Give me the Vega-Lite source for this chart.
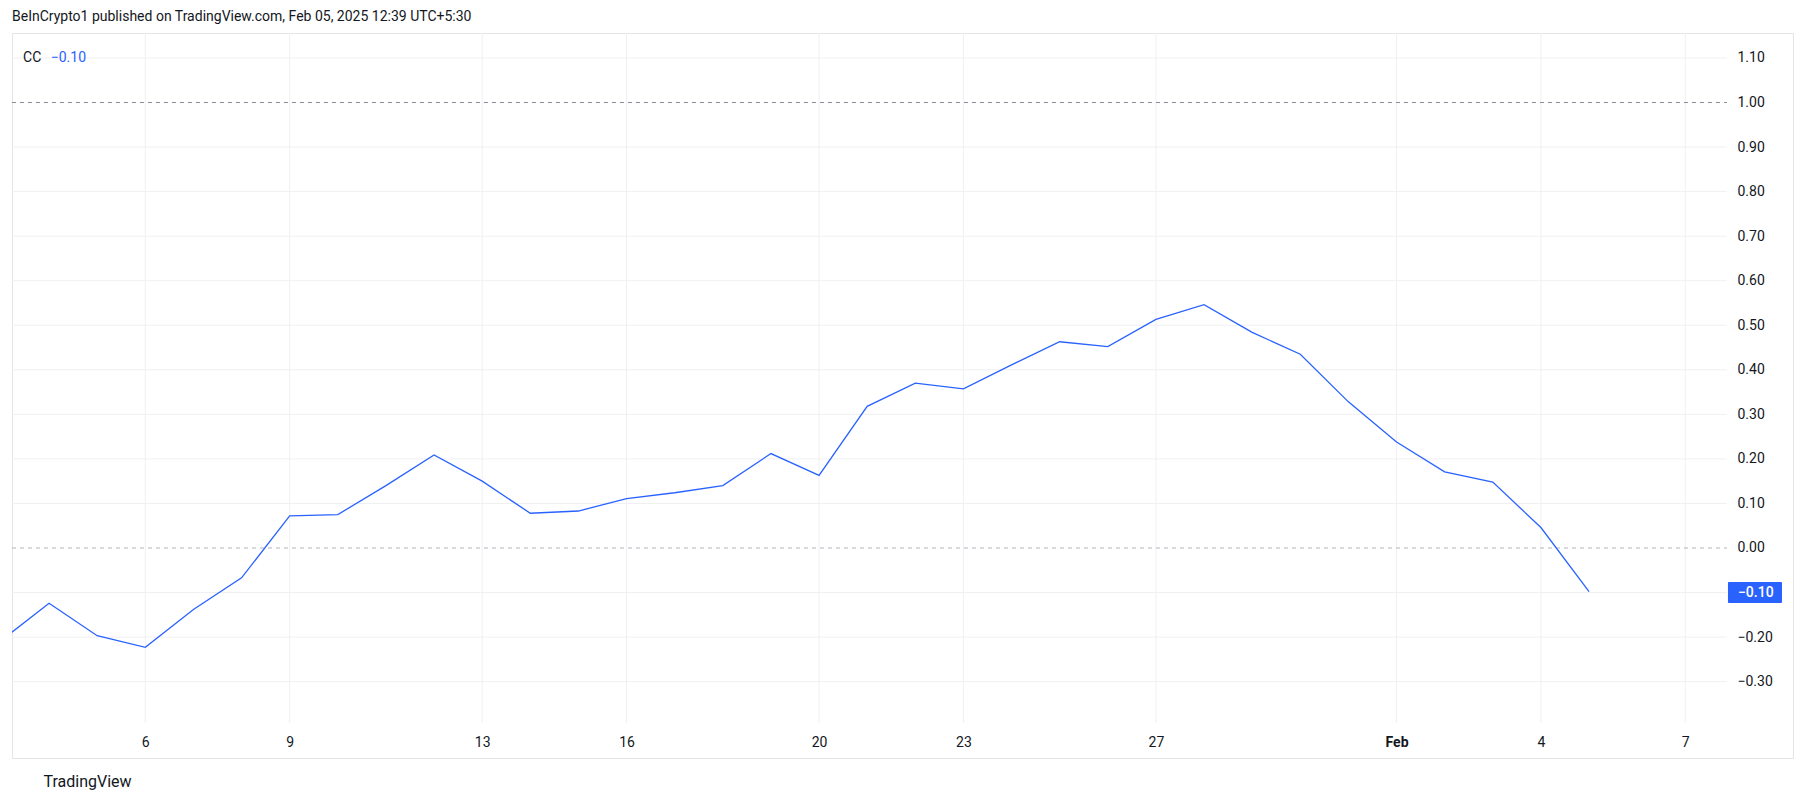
{
  "$schema": "https://vega.github.io/schema/vega-lite/v6.json",
  "width": 1781,
  "height": 725,
  "autosize": {"type": "none"},
  "padding": {"left": 12, "top": 33, "right": 12, "bottom": 45},
  "background": "#ffffff",
  "config": {
    "view": {"stroke": "#e4e4e7", "strokeWidth": 1},
    "font": "Roboto"
  },
  "title": {
    "text": "BeInCrypto1 published on TradingView.com, Feb 05, 2025 12:39 UTC+5:30",
    "anchor": "start",
    "frame": "group",
    "fontSize": 14,
    "fontWeight": "normal",
    "color": "#131722",
    "font": "Roboto",
    "offset": 9
  },
  "datasets": {
    "cc": [
      {"date": "2025-01-03", "cc": -0.208},
      {"date": "2025-01-04", "cc": -0.124},
      {"date": "2025-01-05", "cc": -0.197},
      {"date": "2025-01-06", "cc": -0.223},
      {"date": "2025-01-07", "cc": -0.138},
      {"date": "2025-01-08", "cc": -0.067},
      {"date": "2025-01-09", "cc": 0.072},
      {"date": "2025-01-10", "cc": 0.075},
      {"date": "2025-01-11", "cc": 0.140},
      {"date": "2025-01-12", "cc": 0.209},
      {"date": "2025-01-13", "cc": 0.150},
      {"date": "2025-01-14", "cc": 0.078},
      {"date": "2025-01-15", "cc": 0.083},
      {"date": "2025-01-16", "cc": 0.111},
      {"date": "2025-01-17", "cc": 0.124},
      {"date": "2025-01-18", "cc": 0.140},
      {"date": "2025-01-19", "cc": 0.212},
      {"date": "2025-01-20", "cc": 0.163},
      {"date": "2025-01-21", "cc": 0.318},
      {"date": "2025-01-22", "cc": 0.370},
      {"date": "2025-01-23", "cc": 0.357},
      {"date": "2025-01-24", "cc": 0.411},
      {"date": "2025-01-25", "cc": 0.463},
      {"date": "2025-01-26", "cc": 0.452},
      {"date": "2025-01-27", "cc": 0.513},
      {"date": "2025-01-28", "cc": 0.546},
      {"date": "2025-01-29", "cc": 0.484},
      {"date": "2025-01-30", "cc": 0.435},
      {"date": "2025-01-31", "cc": 0.328},
      {"date": "2025-02-01", "cc": 0.238},
      {"date": "2025-02-02", "cc": 0.171},
      {"date": "2025-02-03", "cc": 0.148},
      {"date": "2025-02-04", "cc": 0.046},
      {"date": "2025-02-05", "cc": -0.098}
    ],
    "hgrid": [
      {"v": -0.3}, {"v": -0.2}, {"v": -0.1}, {"v": 0.1}, {"v": 0.2},
      {"v": 0.3}, {"v": 0.4}, {"v": 0.5}, {"v": 0.6}, {"v": 0.7},
      {"v": 0.8}, {"v": 0.9}, {"v": 1.1}
    ],
    "vgrid": [
      {"d": "2025-01-06"}, {"d": "2025-01-09"}, {"d": "2025-01-13"}, {"d": "2025-01-16"},
      {"d": "2025-01-20"}, {"d": "2025-01-23"}, {"d": "2025-01-27"}, {"d": "2025-02-01"},
      {"d": "2025-02-04"}, {"d": "2025-02-07"}
    ],
    "one": [{}]
  },
  "layer": [
    {
      "data": {"name": "hgrid"},
      "mark": {"type": "rule", "color": "#f0f0f3", "strokeWidth": 1},
      "encoding": {
        "y": {"field": "v", "type": "quantitative"},
        "x": {"datum": {"year": 2025, "month": 1, "date": 3, "hours": 5, "minutes": 31, "utc": true}, "type": "temporal"},
        "x2": {"datum": {"year": 2025, "month": 2, "date": 7, "hours": 20, "minutes": 47, "utc": true}}
      }
    },
    {
      "data": {"name": "vgrid"},
      "mark": {"type": "rule", "color": "#f0f0f3", "strokeWidth": 1},
      "encoding": {
        "x": {"field": "d", "type": "temporal"},
        "y": {"datum": 1.156, "type": "quantitative"},
        "y2": {"datum": -0.3928}
      }
    },
    {
      "data": {"name": "one"},
      "mark": {"type": "rule", "color": "#8a8d96", "strokeWidth": 1, "strokeDash": [4, 4]},
      "encoding": {
        "y": {"datum": 1, "type": "quantitative"},
        "x": {"datum": {"year": 2025, "month": 1, "date": 3, "hours": 5, "minutes": 31, "utc": true}, "type": "temporal"},
        "x2": {"datum": {"year": 2025, "month": 2, "date": 7, "hours": 20, "minutes": 47, "utc": true}}
      }
    },
    {
      "data": {"name": "one"},
      "mark": {"type": "rule", "color": "#b2b5be", "strokeWidth": 1, "strokeDash": [4, 4]},
      "encoding": {
        "y": {"datum": 0, "type": "quantitative"},
        "x": {"datum": {"year": 2025, "month": 1, "date": 3, "hours": 5, "minutes": 31, "utc": true}, "type": "temporal"},
        "x2": {"datum": {"year": 2025, "month": 2, "date": 7, "hours": 20, "minutes": 47, "utc": true}}
      }
    },
    {
      "data": {"name": "cc"},
      "mark": {"type": "line", "color": "#2962ff", "strokeWidth": 1.3, "clip": true},
      "encoding": {
        "x": {
          "field": "date",
          "type": "temporal",
          "scale": {
            "type": "utc",
            "domain": [
              {"year": 2025, "month": 1, "date": 3, "hours": 5, "minutes": 31, "utc": true},
              {"year": 2025, "month": 2, "date": 9, "hours": 5, "minutes": 43, "utc": true}
            ]
          },
          "axis": {
            "orient": "bottom",
            "values": [
              {"year": 2025, "month": 1, "date": 6, "utc": true},
              {"year": 2025, "month": 1, "date": 9, "utc": true},
              {"year": 2025, "month": 1, "date": 13, "utc": true},
              {"year": 2025, "month": 1, "date": 16, "utc": true},
              {"year": 2025, "month": 1, "date": 20, "utc": true},
              {"year": 2025, "month": 1, "date": 23, "utc": true},
              {"year": 2025, "month": 1, "date": 27, "utc": true},
              {"year": 2025, "month": 2, "date": 1, "utc": true},
              {"year": 2025, "month": 2, "date": 4, "utc": true},
              {"year": 2025, "month": 2, "date": 7, "utc": true}
            ],
            "labelExpr": "utcdate(datum.value) == 1 ? utcFormat(datum.value, '%b') : utcFormat(datum.value, '%-d')",
            "labelFontWeight": {"condition": {"test": "utcdate(datum.value) == 1", "value": "bold"}, "value": "normal"},
            "grid": false,
            "ticks": false,
            "domain": false,
            "labelPadding": -16,
            "labelBaseline": "middle",
            "labelFontSize": 14,
            "labelColor": "#131722",
            "labelFont": "Roboto",
            "title": "TradingView",
            "titleFont": "Roboto",
            "titleFontSize": 16,
            "titleFontWeight": "normal",
            "titleColor": "#131722",
            "titleAnchor": "start",
            "titleAlign": "left",
            "titleBaseline": "middle",
            "titleX": 31,
            "titleY": 23
          }
        },
        "y": {
          "field": "cc",
          "type": "quantitative",
          "scale": {"domain": [-0.4714, 1.156], "nice": false, "zero": false},
          "axis": {
            "orient": "right",
            "values": [-0.3, -0.2, -0.1, 0, 0.1, 0.2, 0.3, 0.4, 0.5, 0.6, 0.7, 0.8, 0.9, 1.0, 1.1],
            "format": ".2f",
            "labelExpr": "abs(datum.value + 0.1) < 0.000001 ? '' : datum.label",
            "grid": false,
            "ticks": false,
            "domain": false,
            "labelAlign": "left",
            "labelBaseline": "middle",
            "labelPadding": -56,
            "labelFontSize": 14,
            "labelColor": "#131722",
            "labelFont": "Roboto",
            "title": null
          }
        }
      }
    },
    {
      "data": {"name": "one"},
      "mark": {"type": "text", "text": "CC", "align": "left", "baseline": "middle", "fontSize": 14, "color": "#131722", "font": "Roboto"},
      "encoding": {
        "x": {"datum": {"year": 2025, "month": 1, "date": 3, "hours": 11, "minutes": 1, "utc": true}, "type": "temporal"},
        "y": {"datum": 1.1, "type": "quantitative"}
      }
    },
    {
      "data": {"name": "one"},
      "mark": {"type": "text", "text": "−0.10", "align": "left", "baseline": "middle", "fontSize": 14, "color": "#2962ff", "font": "Roboto"},
      "encoding": {
        "x": {"datum": {"year": 2025, "month": 1, "date": 4, "hours": 0, "minutes": 49, "utc": true}, "type": "temporal"},
        "y": {"datum": 1.1, "type": "quantitative"}
      }
    },
    {
      "data": {"name": "one"},
      "mark": {"type": "rect", "color": "#2962ff", "cornerRadius": 1},
      "encoding": {
        "x": {"datum": {"year": 2025, "month": 2, "date": 7, "hours": 21, "minutes": 17, "utc": true}, "type": "temporal"},
        "x2": {"datum": {"year": 2025, "month": 2, "date": 9, "hours": 0, "minutes": 13, "utc": true}},
        "y": {"datum": -0.0763, "type": "quantitative"},
        "y2": {"datum": -0.1235}
      }
    },
    {
      "data": {"name": "one"},
      "mark": {"type": "text", "text": "−0.10", "align": "left", "baseline": "middle", "fontSize": 14, "fontWeight": 500, "color": "#ffffff", "font": "Roboto"},
      "encoding": {
        "x": {"datum": {"year": 2025, "month": 2, "date": 8, "hours": 2, "minutes": 17, "utc": true}, "type": "temporal"},
        "y": {"datum": -0.1, "type": "quantitative"}
      }
    }
  ]
}
